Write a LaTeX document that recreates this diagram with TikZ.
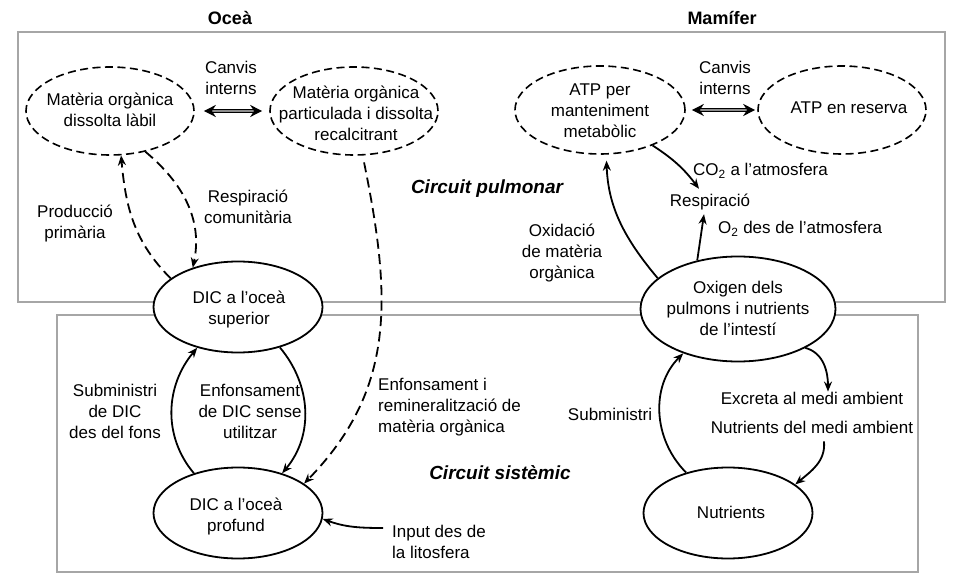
\documentclass[tikz,border=0pt]{standalone}
\usepackage{fontspec}
\setmainfont{Liberation Sans}
\usetikzlibrary{shapes.geometric,arrows.meta}
\newcommand\mydfont{\fontsize{17}{21}\selectfont}
\newcommand\mytfont{\fontsize{18}{22}\selectfont}
\newcommand\myCfont{\fontsize{19}{23}\selectfont}
\begin{document}
\begin{tikzpicture}[x=1pt,y=-1pt,
  frame/.style={draw=black!35, line width=1.4pt},
  dell/.style={ellipse, draw, line width=1.6pt, dash pattern=on 8pt off 4.5pt, fill=white, inner sep=0pt, minimum width=168pt, minimum height=88pt},
  sell/.style={ellipse, draw, line width=1.8pt, fill=white, inner sep=0pt, minimum width=169pt, minimum height=91pt},
  txt/.style={align=center, inner sep=0pt, font=\mydfont},
  arr/.style={-{Stealth[length=10pt,width=8pt]}, line width=1.8pt},
  darr/.style={arr, dash pattern=on 10pt off 5.5pt},
  dbl/.style={{Stealth[length=12pt,width=12pt]}-{Stealth[length=12pt,width=12pt]}, double=black!45, double distance=1.8pt, line width=1.5pt},
  ttl/.style={font=\mytfont\bfseries, inner sep=0pt},
  circ/.style={font=\myCfont\bfseries\itshape, inner sep=0pt}]
\useasboundingbox (0,0) rectangle (979,585);
\fill[white] (0,0) rectangle (979,585);
% frames
\draw[frame] (18,32) rectangle (945,302);
\draw[frame] (57,315) rectangle (918,572);
% titles
\node[ttl] (tOc) at (230,18) {Oceà};
\node[ttl] (tMa) at (722,18) {Mamífer};
% dashed ellipses
\node[dell] (lab) at (110,111) {};
\node[txt] (labT) at (110,110) {Matèria orgànica\\dissolta làbil};
\node[dell] (rec) at (354,111) {};
\node[txt] (recT) at (356,113) {Matèria orgànica\\particulada i dissolta\\recalcitrant};
\node[dell, minimum width=170pt] (atp) at (600,110) {};
\node[txt] (atpT) at (600,111) {ATP per\\manteniment\\metabòlic};
\node[dell] (res) at (842,110) {};
\node[txt] (resT) at (849,108) {ATP en reserva};
% solid ellipses
\node[sell] (dsup) at (238,307) {};
\node[txt] (dsupT) at (239,310) {DIC a l’oceà\\superior};
\node[sell] (dprof) at (238,513) {};
\node[txt] (dprofT) at (236,517) {DIC a l’oceà\\profund};
\node[sell, minimum width=195pt, minimum height=105pt] (oxi) at (738,309) {};
\node[txt] (oxiT) at (738,308) {Oxigen dels\\pulmons i nutrients\\de l’intestí};
\node[sell] (nut) at (728,513) {};
\node[txt] (nutT) at (731,512) {Nutrients};
% labels
\node[txt] (cv1) at (231,78) {Canvis\\interns};
\node[txt] (cv2) at (725,78) {Canvis\\interns};
\node[txt] (prod) at (75,224) {Producció\\primària};
\node[txt] (resc) at (248,207) {Respiració\\comunitària};
\node[circ] (cp) at (487,189) {Circuit pulmonar};
\node[circ] (cs) at (500,473) {Circuit sistèmic};
\node[txt, align=left, anchor=west] (enf) at (378,407) {Enfonsament i\\remineralització de\\matèria orgànica};
\node[txt] (sdic) at (115,411) {Subministri\\de DIC\\des del fons};
\node[txt] (edic) at (250,411) {Enfonsament\\de DIC sense\\utilitzar};
\node[txt, align=left, anchor=west] (inp) at (392,542) {Input des de\\la litosfera};
\node[txt, anchor=west] (co2) at (693,171) {CO\textsubscript{2} a l’atmosfera};
\node[txt] (resp) at (710,202) {Respiració};
\node[txt, anchor=west] (o2) at (718,229) {O\textsubscript{2} des de l’atmosfera};
\node[txt] (oxd) at (562,253) {Oxidació\\de matèria\\orgànica};
\node[txt] (subm) at (610,414) {Subministri};
\node[txt] (exc) at (812,398) {Excreta al medi ambient};
\node[txt] (nma) at (812,427) {Nutrients del medi ambient};
% connectors
\draw[dbl, shorten <=9pt, shorten >=7pt] (lab) -- (rec);
\draw[dbl, shorten <=6pt, shorten >=2pt] (atp) -- (res);
\draw[darr] (lab.-49) to[out=-40,in=78] (dsup.139);
\draw[darr] (dsup.157) to[out=135,in=-85] (lab.-76);
\draw[darr, shorten <=7pt] (rec.-79) .. controls (392,300) and (395,390) .. (dprof.24);
\draw[arr] (dprof.138) to[out=130,in=-130] (dsup.-135);
\draw[arr] (dsup.-44) to[out=-50,in=50] (dprof.42);
\draw[arr] ([xshift=-9pt,yshift=14pt]inp.west) to[out=180,in=-20] (dprof.-4);
\draw[arr] (atp.-34) to[bend left=10] ([xshift=-11pt,yshift=5pt]resp.north);
\draw[arr] (oxi.130) -- ([xshift=-6pt,yshift=-4pt]resp.south);
\draw[arr, shorten >=6pt] (oxi.159) to[out=130,in=-88] (atp.-82);
\draw[arr] (nut.136) to[out=135,in=-135] (oxi.-141);
\draw[arr] (oxi.-30) to[out=-15,in=90] ([xshift=16pt]exc.north);
\draw[arr] ([xshift=12pt,yshift=-8pt]nma.south) to[out=-85,in=40] (nut.23);
\end{tikzpicture}
\end{document}
